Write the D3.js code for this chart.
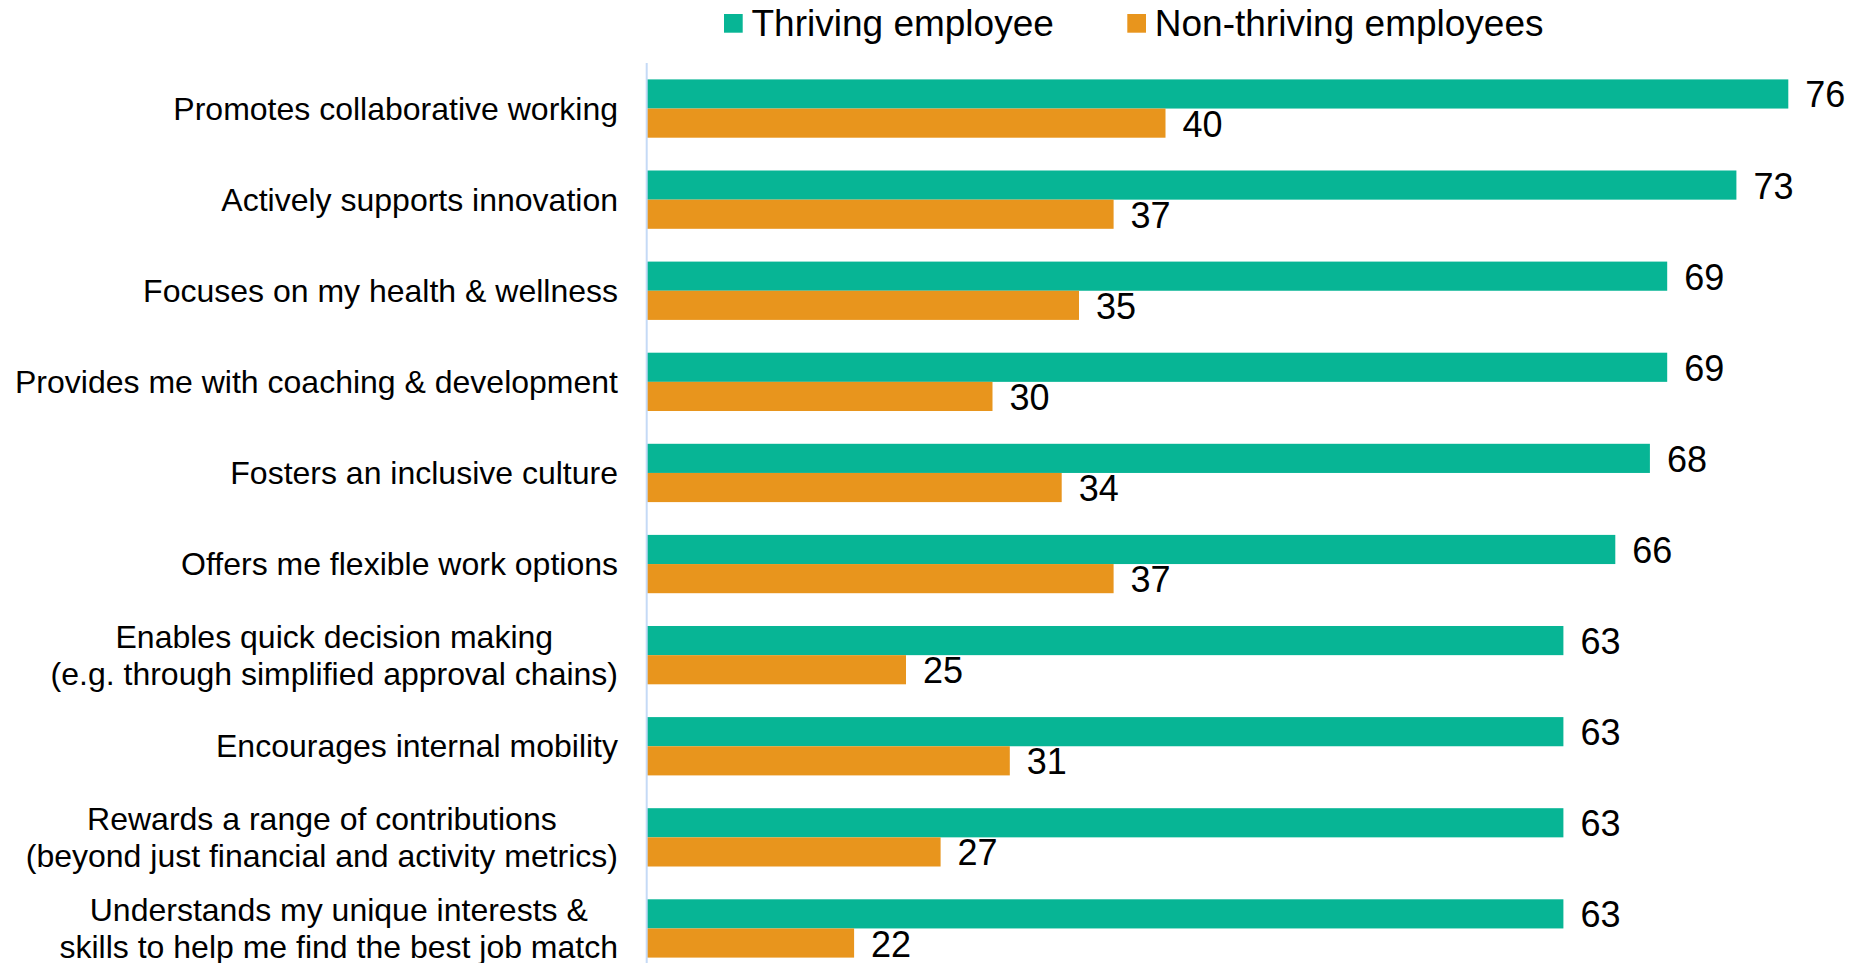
<!DOCTYPE html>
<html>
<head>
<meta charset="utf-8">
<script src="https://cdn.jsdelivr.net/npm/d3@7"></script>
<style>
  html, body { margin: 0; padding: 0; background: #fff; }
  svg { display: block; font-family: "Liberation Sans", Arial, sans-serif; }
</style>
</head>
<body>
<svg id="chart" width="1857" height="963"></svg>
<script>
// Workplace attributes rated by thriving vs non-thriving employees (%)
const categories = [
  "Promotes collaborative working",
  "Actively supports innovation",
  "Focuses on my health & wellness",
  "Provides me with coaching & development",
  "Fosters an inclusive culture",
  "Offers me flexible work options",
  "Enables quick decision making\n(e.g. through simplified approval chains)",
  "Encourages internal mobility",
  "Rewards a range of contributions\n(beyond just financial and activity metrics)",
  "Understands my unique interests &\nskills to help me find the best job match"
];
const thriving = [76, 73, 69, 69, 68, 66, 63, 63, 63, 63];
const nonThriving = [40, 37, 35, 30, 34, 37, 25, 31, 27, 22];
const seriesNames = ["Thriving employee", "Non-thriving employees"];
const seriesColors = ["#07b595", "#e8951d"];
const xDomain = [10, 80];

const W = 1857, H = 963;
const svg = d3.select("#chart");

const x = d3.scaleLinear().domain(xDomain).range([646.5, W + 0.5]);
const y = d3.scaleBand().domain(categories).range([63, 974])
  .paddingInner(0.36).paddingOuter(0.18);
const ySub = d3.scaleBand().domain(seriesNames).range([0, y.bandwidth()]);
const color = d3.scaleOrdinal().domain(seriesNames).range(seriesColors);

const rows = categories.map((c, i) => ({
  category: c,
  values: [
    { series: seriesNames[0], value: thriving[i] },
    { series: seriesNames[1], value: nonThriving[i] }
  ]
}));

// bars
const groups = svg.append("g").selectAll("g.group")
  .data(rows).join("g")
  .attr("class", "group")
  .attr("transform", d => `translate(0,${y(d.category)})`);

groups.selectAll("rect")
  .data(d => d.values).join("rect")
  .attr("x", x(xDomain[0]))
  .attr("y", d => ySub(d.series))
  .attr("width", d => x(d.value) - x(xDomain[0]))
  .attr("height", ySub.bandwidth())
  .attr("fill", d => color(d.series));

// value labels
groups.selectAll("text.value")
  .data(d => d.values).join("text")
  .attr("class", "value")
  .attr("x", d => x(d.value) + 17)
  .attr("y", d => ySub(d.series) + ySub.bandwidth() / 2 + 1)
  .attr("dominant-baseline", "central")
  .attr("font-size", 36)
  .attr("fill", "#000")
  .text(d => d.value);

// vertical category axis line
svg.append("line")
  .attr("x1", 646.7).attr("x2", 646.7)
  .attr("y1", 63).attr("y2", H)
  .attr("stroke", "#c5daf6")
  .attr("stroke-width", 2);

// category labels: block right-aligned, lines centred within the block
const labelRight = 618;
const lineH = 36.7;
const labels = svg.append("g");
rows.forEach(d => {
  const lines = d.category.split("\n");
  const g = labels.append("g");
  const cy = y(d.category) + y.bandwidth() / 2;
  const texts = lines.map((ln, k) => g.append("text")
    .attr("font-size", 32)
    .attr("fill", "#000")
    .attr("dominant-baseline", "central")
    .attr("y", cy + (k - (lines.length - 1) / 2) * lineH)
    .text(ln));
  const maxW = d3.max(texts, t => t.node().getComputedTextLength());
  texts.forEach(t => t.attr("text-anchor", "middle").attr("x", labelRight - maxW / 2));
});

// legend
const legendX = [724, 1127.3];
const legend = svg.append("g");
seriesNames.forEach((s, i) => {
  legend.append("rect")
    .attr("x", legendX[i]).attr("y", 14)
    .attr("width", 18.7).attr("height", 18.7)
    .attr("fill", color(s));
  legend.append("text")
    .attr("x", legendX[i] + 27.5).attr("y", 36)
    .attr("font-size", 37)
    .attr("fill", "#000")
    .text(s);
});
</script>
</body>
</html>
